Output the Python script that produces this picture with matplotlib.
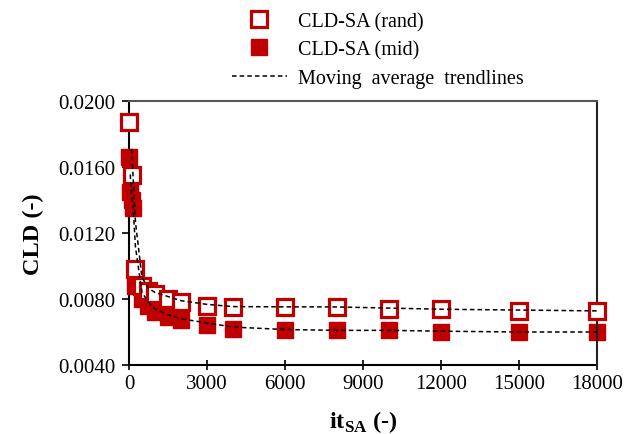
import numpy as np
import matplotlib
matplotlib.use("Agg")
import matplotlib.pyplot as plt
from matplotlib.lines import Line2D

plt.rcParams['font.family'] = ['Liberation Serif', 'DejaVu Serif']
plt.rcParams['mathtext.fontset'] = 'custom'
plt.rcParams['mathtext.rm'] = 'Liberation Serif'
plt.rcParams['mathtext.bf'] = 'Liberation Serif:bold'

rand_x = [0, 100, 250, 500, 750, 1000, 1500, 2000, 3000, 4000, 6000, 8000, 10000, 12000, 15000, 18000]
rand_y = [0.0187, 0.0155, 0.0098, 0.0088, 0.0085, 0.0083, 0.0080, 0.0078, 0.00755, 0.00753, 0.00752,
          0.00752, 0.00738, 0.00738, 0.00728, 0.00728]
mid_x = [0, 50, 100, 150, 250, 500, 750, 1000, 1500, 2000, 3000, 4000, 6000, 8000, 10000, 12000, 15000, 18000]
mid_y = [0.0166, 0.0145, 0.0140, 0.0135, 0.0088, 0.0080, 0.0076, 0.0072, 0.0069, 0.0067, 0.0064,
         0.0062, 0.0061, 0.0061, 0.0061, 0.0060, 0.0060, 0.0060]

x_ticks = [0, 3000, 6000, 9000, 12000, 15000, 18000]
y_ticks = [0.0040, 0.0080, 0.0120, 0.0160, 0.0200]

red = '#C00000'

fig = plt.figure(figsize=(6.24, 4.35), dpi=100)
ax = fig.add_axes([0.2067, 0.1586, 0.7500, 0.6069])

def mavg(x, y):
    y = np.asarray(y)
    return np.asarray(x)[1:], (y[1:] + y[:-1]) / 2

for xs, ys in [(rand_x, rand_y), (mid_x, mid_y)]:
    mx, my = mavg(xs, ys)
    ax.plot(mx, my, ls=(0, (3, 2)), color='black', lw=1.1, zorder=4, clip_on=False)

ax.plot(rand_x, rand_y, ls='none', marker='s', ms=12, mfc='white', mec=red, mew=2.3, zorder=3, clip_on=False)
ax.plot(mid_x, mid_y, ls='none', marker='s', ms=12, mfc=red, mec=red, mew=1, zorder=2, clip_on=False)

ax.set_xlim(0, 18000)
ax.set_ylim(0.0040, 0.0200)
ax.set_xticks(x_ticks)
ax.set_xticklabels([str(v) for v in x_ticks])
ax.set_yticks(y_ticks)
ax.set_yticklabels([f"{v:.4f}" for v in y_ticks])
ax.tick_params(axis='x', direction='inout', length=7, width=1.2, labelsize=15, pad=3)
ax.tick_params(axis='y', direction='out', length=5, width=1.2, labelsize=15, pad=5)

for s in ['left', 'bottom']:
    ax.spines[s].set_linewidth(1.5)
    ax.spines[s].set_color('black')
    ax.spines[s].set_zorder(1)
ax.spines['top'].set_color('#555555')
ax.spines['top'].set_linewidth(1.5)
ax.spines['right'].set_color('#222222')
ax.spines['right'].set_linewidth(1.5)

ax.set_ylabel('CLD (-)', fontsize=17.5, fontweight='bold', labelpad=10)
ax.set_xlabel(r'it$_{\mathbf{SA}}$ (-)', fontsize=17.5, fontweight='bold', labelpad=11)

handles = [
    Line2D([], [], ls='none', marker='s', ms=12, mfc='white', mec=red, mew=2.3),
    Line2D([], [], ls='none', marker='s', ms=12, mfc=red, mec=red),
    Line2D([], [], ls=(0, (3, 2)), color='black', lw=1.1),
]
labels = ['CLD-SA (rand)', 'CLD-SA (mid)', 'Moving  average  trendlines']
fig.legend(handles, labels, loc='upper left', bbox_to_anchor=(0.342, 1.012), frameon=False,
           fontsize=14.5, handlelength=2.75, handletextpad=0.55, labelspacing=0.45)

fig.savefig('out.png', dpi=100)
